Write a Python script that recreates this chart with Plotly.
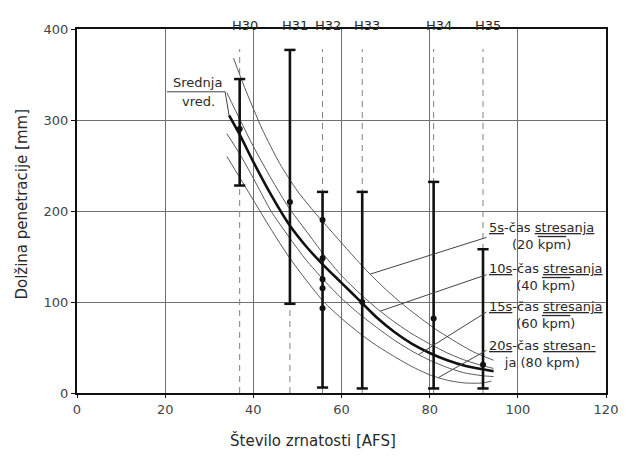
import numpy as np
import plotly.graph_objects as go

# ---------------- data ----------------
sieve_labels = ["H30", "H31", "H32", "H33", "H34", "H35"]
sieve_afs = [36.9, 48.3, 55.7, 64.7, 80.9, 92.1]
range_low = [228, 98, 6, 5, 5, 5]
range_high = [345, 377, 221, 221, 232, 158]

pts_x = [36.9, 48.3, 55.7, 55.7, 55.7, 55.7, 55.7, 64.7, 80.9, 92.1]
pts_y = [290, 210, 190, 148, 125, 115, 93, 100, 82, 31]

mean_x = [34.5, 37, 40, 44, 48, 52, 56, 60, 64, 68, 72, 76, 80, 84, 88, 92, 94.5]
mean_y = [305, 283, 254, 218, 186, 161, 140, 121, 102, 83, 67, 54, 44, 36, 30, 26, 24]

s5_x = [35.5, 38, 42, 46, 50, 54, 58, 62, 66, 70, 74, 78, 82, 86, 90, 94.5]
s5_y = [368, 336, 290, 252, 222, 198, 176, 154, 133, 114, 97, 82, 68, 56, 45, 36]

s10_x = [34, 37, 40, 44, 48, 52, 56, 60, 64, 68, 72, 76, 80, 84, 88, 92, 94.5]
s10_y = [330, 300, 271, 236, 204, 178, 152, 129, 110, 93, 78, 65, 54, 44, 36, 30, 27]

s15_x = [34, 37, 40, 44, 48, 52, 56, 60, 64, 68, 72, 76, 80, 84, 88, 92, 94.5]
s15_y = [285, 262, 236, 200, 172, 146, 124, 104, 87, 72, 58, 46, 36, 28, 22, 19, 18]

s20_x = [34, 37, 40, 44, 48, 52, 56, 60, 64, 68, 72, 76, 80, 84, 88, 92, 94]
s20_y = [260, 236, 212, 180, 150, 124, 100, 82, 66, 52, 40, 29, 20, 14, 11, 11, 13]

series_labels = [
    "<u>5s</u>-čas <u>stresanja</u><br>(20 <span style='text-decoration:overline'>kpm</span>)",
    "<u>10s</u>-čas <u>stresanja</u><br>(40 <span style='text-decoration:overline'>kpm</span>)",
    "<u>15s</u>-čas <u>stresanja</u><br>(60 <span style='text-decoration:overline'>kpm</span>)",
    "<u>20s</u>-čas <u>stresan-</u><br>ja (80 kpm)",
]
leader_x = [66.5, 68.8, 77.5, 82]

x_ticks = [0, 20, 40, 60, 80, 100, 120]
y_ticks = [0, 100, 200, 300, 400]

FONT = "DejaVu Sans"
INK = "#2a2a2a"
GRID = "#707070"

fig = go.Figure()

# dashed sieve lines
for xv in sieve_afs:
    fig.add_trace(go.Scatter(x=[xv, xv], y=[0, 378], mode="lines",
                             line=dict(color="#808080", width=1, dash="6px,5px"),
                             showlegend=False, hoverinfo="skip"))

# thin curves
curves = [(s5_x, s5_y), (s10_x, s10_y), (s15_x, s15_y), (s20_x, s20_y)]
for cx, cy in curves:
    fig.add_trace(go.Scatter(x=cx, y=cy, mode="lines",
                             line=dict(color="#585858", width=1, shape="spline", smoothing=0.6),
                             showlegend=False, hoverinfo="skip"))

# mean curve (thick)
fig.add_trace(go.Scatter(x=mean_x, y=mean_y, mode="lines",
                         line=dict(color="#111111", width=2.6, shape="spline", smoothing=0.6),
                         showlegend=False, hoverinfo="skip"))

# range bars
bx, by = [], []
for xv, lo, hi in zip(sieve_afs, range_low, range_high):
    bx += [xv, xv, None]
    by += [lo, hi, None]
fig.add_trace(go.Scatter(x=bx, y=by, mode="lines", line=dict(color="#111111", width=2.6),
                         showlegend=False, hoverinfo="skip"))
fig.add_trace(go.Scatter(x=sieve_afs + sieve_afs, y=range_low + range_high, mode="markers",
                         marker=dict(symbol="line-ew", size=8, line=dict(color="#111111", width=2.5)),
                         showlegend=False, hoverinfo="skip"))
fig.add_trace(go.Scatter(x=pts_x, y=pts_y, mode="markers",
                         marker=dict(symbol="circle", size=6, color="#111111"),
                         showlegend=False, hoverinfo="skip"))

# leaders from labels to curves
label_mid_y = [172, 128, 86, 43]
leader_end_y = [171, 130, 89, 47]
for i, (lab, lx) in enumerate(zip(series_labels, leader_x)):
    cx, cy = curves[i]
    ly = float(np.interp(lx, cx, cy))
    fig.add_shape(type="line", x0=lx, y0=ly, x1=92.9, y1=leader_end_y[i],
                  line=dict(color="#444444", width=1))
    fig.add_annotation(x=92.9, y=label_mid_y[i], xref="x", yref="y", text=lab, showarrow=False,
                       xanchor="left", yanchor="middle", align="center",
                       font=dict(family=FONT, size=13, color=INK))

# Srednja vred. label
fig.add_annotation(x=27.4, y=341, text="Srednja", showarrow=False, font=dict(family=FONT, size=13, color=INK))
fig.add_annotation(x=27.6, y=320, text="vred.", showarrow=False, font=dict(family=FONT, size=13, color=INK))
fig.add_shape(type="line", x0=20.4, y0=331, x1=33.6, y1=331, line=dict(color="#444444", width=1))
fig.add_shape(type="line", x0=33.6, y0=331, x1=mean_x[0], y1=mean_y[0], line=dict(color="#444444", width=1))

# sieve labels on top
for lab, xv in zip(sieve_labels, sieve_afs):
    fig.add_annotation(x=xv, y=1.0, xref="x", yref="paper", yshift=13, xshift=5, text=lab, showarrow=False,
                       font=dict(family=FONT, size=13, color=INK))

# axis titles
fig.add_annotation(x=0.446, y=-0.13, xref="paper", yref="paper", text="Število zrnatosti [AFS]", showarrow=False,
                   font=dict(family=FONT, size=15, color=INK), yanchor="middle")
fig.add_annotation(x=-0.125, y=0.52, xref="paper", yref="paper", text="Dolžina penetracije [mm]", showarrow=False,
                   textangle=-90, font=dict(family=FONT, size=15, color=INK))

fig.update_xaxes(range=[0, 120], tickvals=x_ticks, ticktext=[str(v) for v in x_ticks],
                 showgrid=True, gridcolor=GRID, gridwidth=1, zeroline=False,
                 showline=True, linecolor="#111111", linewidth=2, mirror=True,
                 ticks="outside", ticklen=3, tickcolor="#111111",
                 tickfont=dict(family=FONT, size=13, color="#444444"))
fig.update_yaxes(range=[0, 400], tickvals=y_ticks, ticktext=[str(v) for v in y_ticks],
                 showgrid=True, gridcolor=GRID, gridwidth=1, zeroline=False,
                 showline=True, linecolor="#111111", linewidth=2, mirror=True,
                 ticks="outside", ticklen=4, tickcolor="#111111",
                 tickfont=dict(family=FONT, size=13, color="#444444"))

fig.update_layout(width=630, height=461, margin=dict(l=77, r=19, t=29, b=68),
                  paper_bgcolor="white", plot_bgcolor="white", showlegend=False)

fig.write_html("out.html")
